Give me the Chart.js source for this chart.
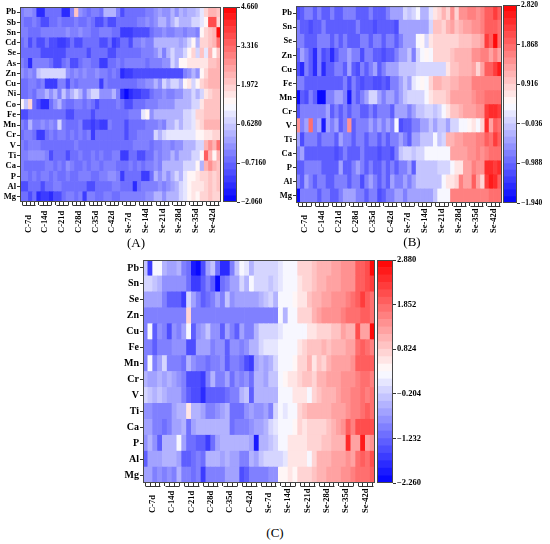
<!DOCTYPE html>
<html lang="en">
<head>
  <meta charset="UTF-8">
  <title>Element heatmaps (A)(B)(C)</title>
  <script src="https://cdn.jsdelivr.net/npm/chart.js"></script>
  <style>
    body { margin:0; background:#fff; width:550px; height:544px; position:relative; overflow:hidden; }
    canvas { position:absolute; }
    .tag { position:absolute; width:40px; margin-left:-20px; text-align:center;
           font-family:"Liberation Serif", serif; font-size:13px; line-height:16px; color:#000; }
  </style>
</head>
<body>
  <canvas id="heatA" width="222" height="240" style="left:0;top:0"></canvas>
  <canvas id="barA" width="50" height="214" style="left:223px;top:-4px"></canvas>
  <canvas id="heatB" width="227" height="240" style="left:276px;top:0"></canvas>
  <canvas id="barB" width="47" height="214" style="left:503px;top:-4px"></canvas>
  <canvas id="heatC" width="260" height="270" style="left:116px;top:250px"></canvas>
  <canvas id="barC" width="50" height="240" style="left:377px;top:250px"></canvas>
  <div class="tag" style="left:136px;top:235px">(A)</div>
  <div class="tag" style="left:412px;top:234px">(B)</div>
  <div class="tag" style="left:275px;top:525px">(C)</div>

  <script>
    // sample groups, 4 replicates each
    const groups = ['C-7d','C-14d','C-21d','C-28d','C-35d','C-42d',
                    'Se-7d','Se-14d','Se-21d','Se-28d','Se-35d','Se-42d'];

    // ---- panel A ----
    const rowsA = ['Pb','Sb','Sn','Cd','Se','As','Zn','Cu','Ni','Co','Fe','Mn','Cr','V','Ti','Ca','P','Al','Mg'];
    const rangeA = [-2.06, 4.66];
    const ticksA = [-2.06, -0.716, 0.628, 1.972, 3.316, 4.66];
    const tickLabelsA = ['\u22122.060','\u22120.7160','0.6280','1.972','3.316','4.660'];
    const valuesA = [
      [-0.4,-0.1,-0.1,-0.4, -1.6,-1.6,-0.7,-0.7, -0.7,-0.7,-1.6,-1.6, -0.4,2.0,-0.1,-0.4, -0.7,-0.4,-0.4,-0.7, 0.3,0.3,0.3,-0.4, -1.0,-0.7,-0.7,-0.7, -0.7,-0.7,-0.4,-0.4, -0.1,0.0,-0.1,-0.1, 0.3,-0.1,0.3,0.0, 0.3,0.3,0.6,1.0, 1.8,2.3,2.3,2.0],
      [-0.4,-0.7,-0.7,-0.4, -0.7,-1.0,-1.0,-0.7, -0.7,-0.4,-0.7,-0.7, -0.7,-0.4,-0.7,-0.7, -0.4,-0.7,-1.0,-1.0, -0.7,-1.0,-1.0,-0.7, -0.7,-0.7,-0.7,-0.7, -0.4,-0.4,-0.1,-0.4, -0.1,0.3,0.3,-0.1, 0.3,0.8,0.3,0.3, 0.3,0.8,0.8,1.0, 1.4,3.6,3.6,1.9],
      [-0.4,-0.4,-0.7,-0.7, -0.7,-0.4,-0.4,-0.4, -0.4,-0.4,-0.4,-0.1, -0.4,-0.4,-0.1,-0.4, -0.4,-0.7,-0.7,-0.4, -0.4,-0.4,-0.7,-0.7, -1.3,-1.3,-1.3,-1.0, -1.0,-1.0,-1.0,-0.7, -0.4,-0.4,-0.1,-0.4, -0.4,-0.1,-0.1,-0.4, -0.1,-0.1,-0.4,1.3, 1.8,2.0,2.3,4.6],
      [-0.7,-0.4,-1.0,-0.7, -1.0,-1.0,-0.7,-1.0, -1.0,-1.3,-1.3,-1.0, -0.7,-1.0,-1.0,-0.7, -0.7,-0.7,-0.7,-1.0, -1.0,-0.7,-1.3,-1.0, -0.7,-0.7,-1.0,-0.4, -0.4,-0.1,-0.4,-0.4, 0.3,0.3,0.3,0.3, 0.3,0.3,0.0,0.3, 0.8,1.3,0.3,1.8, 1.8,2.0,2.3,3.2],
      [-0.7,-0.7,-0.7,-0.7, -0.7,-1.0,-1.0,-1.0, -1.0,-1.0,-1.0,-0.7, -0.7,-0.7,-0.7,-0.7, -1.0,-0.7,-0.7,-0.7, -0.7,-1.0,-1.0,-0.7, -0.7,-0.7,-0.7,-0.7, -0.7,-0.4,-0.4,-0.4, -0.1,0.3,-0.4,0.3, 0.8,0.3,0.3,0.8, 1.3,1.8,0.8,2.0, 1.0,2.3,1.3,2.0],
      [-0.4,-0.7,-1.6,-0.4, -0.4,-0.4,-0.4,-0.7, -1.0,-1.0,-0.7,-0.4, -1.0,-1.0,-0.7,-0.4, -0.4,-0.7,-0.7,-1.3, -1.3,-0.7,-0.7,-0.4, -0.7,-0.4,-0.4,-0.4, -0.4,-0.4,-0.7,-0.4, -0.4,-0.4,-0.1,-0.1, 0.8,0.3,1.3,1.3, 1.6,1.6,1.6,1.6, 1.6,2.0,2.0,2.3],
      [-0.1,-0.4,-0.1,-0.4, 0.5,0.8,0.8,0.8, 0.8,0.8,0.8,-0.1, -0.4,-0.1,-0.4,-0.1, -0.4,-0.4,-0.1,-0.4, -0.4,-0.7,-0.4,-0.7, -1.6,-1.3,-1.3,-1.0, -1.0,-1.0,-1.0,-1.0, -1.0,-1.0,-1.0,-1.0, -1.0,-1.0,-1.0,-0.4, -0.1,0.3,-0.1,1.3, 1.8,2.3,2.3,2.3],
      [-0.7,-0.7,-0.4,-0.4, -0.7,-0.4,-1.3,-1.3, -1.3,-0.4,-0.4,-1.0, -0.4,-0.7,-0.4,-0.4, -0.4,-0.4,-0.4,-1.3, -0.4,-0.7,-0.7,-0.7, -0.7,-0.7,-0.7,-0.7, -0.4,-0.4,-0.1,-0.1, 0.3,-0.1,0.8,0.3, 0.8,0.8,0.3,1.3, 1.6,0.8,1.3,1.8, 2.0,2.3,2.3,2.3],
      [-0.7,-0.7,-0.4,-0.7, -0.1,-0.1,0.3,-0.1, 0.3,-0.4,0.5,-0.1, 0.3,0.8,0.3,-0.4, 0.3,0.8,0.8,-0.1, -0.1,-0.1,0.3,-0.4, -1.6,-2.0,-1.6,-1.3, -1.3,-1.0,-1.0,-0.7, -0.4,-0.4,-0.1,-0.4, -0.4,-0.1,-0.1,0.3, 0.3,0.8,0.3,0.8, 1.6,1.8,2.0,2.0],
      [1.3,0.5,1.8,-0.7, -1.0,-1.6,-1.6,-0.7, -0.1,0.3,-0.4,-0.7, -0.7,-0.4,-0.4,-0.7, -0.4,-0.7,-1.0,-0.7, -0.7,-0.7,-0.7,-0.4, -0.7,-1.0,-1.0,-0.7, -0.7,-0.7,-0.4,-0.4, -0.4,-0.1,-0.1,-0.1, -0.1,0.3,0.3,0.3, 0.3,0.8,0.8,1.6, 2.0,2.0,2.0,2.0],
      [-1.0,-1.0,-0.7,-0.7, -0.7,-0.7,-0.7,-0.7, -0.7,-0.7,-0.7,-1.0, -1.0,-0.7,-0.7,-0.7, -0.7,-1.0,-0.7,-0.7, -0.7,-0.7,-0.7,-0.7, -0.7,-0.7,-0.4,-0.4, -0.4,1.0,1.3,-0.1, 0.3,0.3,0.3,0.3, 0.3,0.3,0.3,0.8, 0.8,1.0,1.8,1.8, 2.0,2.0,2.0,2.0],
      [-0.4,-0.7,0.3,-0.4, -0.4,-0.1,-0.4,-0.1, -0.4,0.8,-0.4,-0.7, -0.7,-0.7,-0.4,-1.0, -1.0,-1.3,-1.0,-1.3, -1.3,-0.4,-0.7,-0.7, -0.7,-1.0,-0.7,-0.7, -0.7,-0.7,-0.4,-0.4, -0.4,-0.1,-0.4,0.3, 0.3,0.8,0.3,0.8, 0.8,1.0,1.6,1.8, 2.3,2.3,2.3,2.3],
      [-0.7,-0.4,-0.4,-0.7, -1.3,-1.3,-0.7,-0.4, -0.7,-0.4,-0.4,-0.7, -0.4,-0.7,-0.4,-0.7, -0.4,-1.3,-0.7,-0.7, -0.7,-0.7,-0.7,-0.7, -0.7,-1.0,-0.7,-0.7, -0.4,-0.4,-0.4,-0.4, 0.8,0.3,0.8,1.0, 1.0,1.0,1.0,1.0, 1.0,1.0,1.3,1.3, 1.6,1.6,1.8,1.8],
      [-0.4,-0.7,-0.4,-0.4, -0.4,-0.7,-0.7,-0.7, -0.7,-0.7,-0.7,-0.7, -0.7,-0.4,-0.7,-0.7, -0.7,-0.7,-0.7,-0.7, -0.7,-0.7,-0.7,-0.7, -0.7,-0.7,-0.7,-0.4, -0.4,-0.4,-0.4,-0.7, -0.4,-0.4,-0.1,-0.1, -0.4,-0.1,-0.1,0.3, 0.3,0.3,0.8,0.8, 2.3,2.8,2.3,3.2],
      [-0.4,-0.4,-0.1,-0.1, -0.1,-0.1,-0.4,-1.0, -0.7,-0.7,-0.7,-1.0, -0.7,-0.7,-0.4,-0.7, -0.7,-0.4,-0.7,-0.4, -0.7,-0.7,-0.4,-0.4, -1.3,-1.3,-0.7,-0.7, -1.0,-1.0,-0.7,-0.7, -0.1,-0.4,-0.1,-0.1, 0.3,-0.1,0.3,0.3, 0.3,0.8,0.8,1.3, 3.4,2.3,1.3,2.3],
      [-0.4,-0.7,-0.7,-0.7, -0.7,-0.7,-0.4,-0.4, -0.7,-0.4,-0.7,-0.1, -0.4,-0.7,-0.7,-0.4, -0.7,-0.4,-0.4,-0.7, -0.4,-0.4,-0.4,-0.7, -0.7,-0.7,-0.4,-0.7, -0.4,-0.7,-0.4,-0.4, -0.1,-0.4,0.3,0.3, 0.3,0.3,0.3,0.8, 0.8,0.8,1.3,0.3, 2.3,2.8,2.3,2.0],
      [-0.4,-0.4,-0.7,-0.4, -0.7,-0.4,-0.4,-0.7, -0.4,-0.7,-0.7,-0.4, -0.7,-0.7,-0.4,-0.4, -0.4,-0.7,-0.7,-0.4, -0.4,-0.1,-0.1,-0.4, -1.3,-0.7,-0.7,-0.7, -0.7,-1.3,-1.3,-0.7, 0.3,-0.1,0.3,-0.1, 0.3,0.8,0.3,1.0, 1.3,1.3,1.6,1.8, 1.8,2.0,1.8,2.0],
      [-1.0,-1.0,-0.7,-0.7, -0.7,-1.0,-0.7,-0.7, -0.4,-0.4,-0.7,-0.7, -0.7,-0.7,-0.7,-0.7, -1.0,-1.0,-0.7,-0.7, -0.7,-0.7,-0.4,-0.4, -0.7,-0.7,-0.7,-1.6, -0.7,-0.4,-0.4,-0.4, -0.4,-0.1,-0.4,-0.1, 0.0,0.3,0.8,1.0, 1.3,1.6,1.6,1.6, 1.8,2.0,1.8,2.0],
      [-0.7,-0.7,-1.0,-0.7, -1.6,-1.3,-1.3,-1.6, -1.0,-1.0,-0.7,-0.4, -0.4,-0.7,-0.4,-1.3, -0.4,-0.4,-0.7,-0.7, -0.4,-0.4,-0.7,-0.7, -0.4,-0.4,-0.4,-0.4, -0.4,-0.4,-0.1,-0.1, 0.3,0.3,-0.1,0.3, 0.3,0.3,0.8,1.0, 1.3,1.6,1.3,1.8, 1.8,2.0,1.8,1.8]
    ];

    // ---- panel B ----
    const rowsB = ['Pb','Sn','Se','Zn','Cu','Fe','Mn','Cr','V','Ti','Ca','P','Al','Mg'];
    const rangeB = [-1.94, 2.82];
    const ticksB = [-1.94, -0.988, -0.036, 0.916, 1.868, 2.82];
    const tickLabelsB = ['\u22121.940','\u22120.988','\u22120.036','0.916','1.868','2.820'];
    const valuesB = [
      [-1.3,-1.0,-0.7,-0.7, -1.0,-0.7,-1.0,-1.0, -0.7,-1.0,-1.0,-0.7, -0.7,-0.7,-1.0,-1.0, -1.0,-0.7,-1.0,-1.0, -1.0,-0.7,-0.4,-0.4, -0.4,0.0,-0.1,0.0, 0.4,-0.3,-0.3,0.2, 0.6,0.9,1.1,0.9, 1.5,0.9,1.5,1.5, 1.6,1.6,1.5,1.6, 2.0,2.0,2.2,2.0],
      [-0.7,-1.0,-1.0,-1.3, -1.0,-1.0,-0.7,-1.0, -1.0,-1.0,-1.0,-1.0, -1.0,-1.0,-0.7,-1.0, -1.0,-1.0,-1.3,-1.0, -1.0,-1.0,-1.0,-1.3, -0.4,-0.4,-0.4,-0.4, -0.4,-0.4,-0.4,0.1, 1.0,1.0,0.9,1.1, 1.3,1.0,1.1,1.3, 1.3,1.5,1.5,1.6, 1.9,1.9,1.9,1.8],
      [-0.7,-0.7,-1.0,-1.0, -1.0,-0.7,-0.7,-0.7, -1.0,-0.7,-1.0,-0.7, -1.0,-1.0,-1.0,-0.7, -0.7,-1.0,-0.7,-0.7, -1.0,-0.7,-0.7,-1.0, -0.7,-0.4,-0.4,-0.4, 0.4,0.5,0.1,0.6, 0.9,0.9,0.9,0.9, 0.9,0.9,1.0,1.0, 1.0,1.1,1.1,1.3, 2.3,2.0,2.8,1.8],
      [-1.0,-0.4,-0.7,-1.0, -1.6,-0.7,-1.3,-1.0, -1.6,-1.0,-0.7,-0.7, -0.4,-0.7,-0.7,-1.3, -0.7,-0.7,-1.0,-1.0, -1.3,-1.0,-1.0,-0.7, -0.4,-0.4,-0.1,-0.7, 0.1,0.4,0.5,0.3, 0.9,0.9,0.9,0.9, 1.0,1.1,1.1,1.1, 1.2,1.5,1.5,1.6, 1.6,1.3,1.6,1.3],
      [-1.3,-1.6,-0.7,-1.0, -1.6,-0.7,-1.6,-1.0, -1.0,-0.7,-0.7,-1.0, -0.4,-1.0,-1.3,-0.7, -1.0,-0.7,-0.4,-1.0, -0.7,-0.4,-0.4,-0.4, -0.1,-0.1,-0.1,-0.1, 0.0,0.0,0.0,0.1, 0.1,0.1,0.1,0.6, 1.0,1.0,1.1,1.1, 1.1,1.3,0.8,1.3, 2.0,2.0,2.2,2.6],
      [-0.7,-0.7,-1.0,-1.0, -1.0,-1.0,-1.0,-1.0, -1.0,-1.0,-1.0,-0.7, -1.3,-0.7,-1.0,-1.3, -1.0,-1.0,-1.3,-1.3, -1.0,-1.3,-0.7,-0.7, -0.4,-0.1,-0.4,0.2, 0.4,0.5,0.3,0.9, 1.1,1.1,1.0,1.0, 1.1,1.1,1.3,1.3, 1.3,1.6,1.6,1.6, 1.6,1.6,1.6,1.6],
      [-1.9,-1.0,-1.3,-0.7, -1.0,-1.9,-1.9,-0.7, -0.7,-0.4,-0.4,-0.7, -1.7,-0.7,-1.0,-0.7, -0.4,0.0,0.0,-0.4, -0.7,-0.4,-0.4,-0.7, -0.4,-0.1,0.0,0.0, 0.1,0.1,0.4,0.7, 0.9,0.9,0.9,1.0, 1.3,1.3,1.3,1.3, 1.3,1.5,1.6,1.6, 1.8,1.8,1.8,1.8],
      [-1.3,-0.7,-0.7,-0.7, -0.7,-0.7,-0.7,-0.4, -1.0,-0.7,-1.0,-0.7, -1.0,-0.7,-0.7,-1.0, -1.0,-0.7,-1.0,-0.7, -0.7,-0.7,-1.0,-0.4, -0.4,-0.4,-0.7,-0.4, -0.1,-0.1,0.0,0.0, -0.1,0.1,0.3,0.6, 1.0,1.0,1.1,1.3, 1.3,1.3,1.5,1.5, 2.2,2.5,2.5,2.2],
      [1.4,-0.7,-0.4,1.8, -0.7,-0.4,-1.7,-0.4, -0.7,-0.4,-1.0,-0.7, 1.5,-1.0,-0.7,-0.7, -0.7,-0.4,-0.7,-0.4, -0.7,-0.4,-0.7,0.4, -1.3,-1.0,-1.0,-0.7, -0.7,-0.4,-0.4,-0.1, -0.4,-0.1,-0.1,-0.4, 0.1,0.1,0.3,0.3, 0.5,0.6,0.3,0.9, 2.5,1.3,2.0,1.8],
      [-0.4,-1.3,-0.7,-0.7, -0.7,-1.0,-0.7,-0.7, -0.7,-1.0,-0.4,-0.7, -0.7,-1.0,-0.7,-0.7, -1.0,-0.7,-0.7,-1.0, -0.7,-1.0,-0.7,-0.7, -0.4,-0.7,-1.0,-0.4, -0.4,-0.1,-0.1,-0.1, 0.4,-0.1,0.1,1.1, 1.1,1.3,1.3,1.5, 1.5,1.5,1.6,1.6, 2.0,1.8,2.2,2.0],
      [-0.7,-0.4,-1.0,-1.0, -1.0,-1.0,-1.0,-1.0, -1.0,-1.3,-1.0,-0.7, -1.0,-1.0,-1.0,-0.7, -1.0,-1.0,-1.0,-1.3, -1.0,-1.0,-1.3,-0.7, -0.1,0.0,0.0,-0.1, 0.1,0.1,0.3,0.3, 0.3,0.3,0.3,0.3, 1.3,1.3,1.3,1.3, 1.5,1.5,1.6,1.5, 1.6,1.8,1.8,1.8],
      [-1.0,-1.0,-0.7,-0.7, -0.7,-0.7,-1.0,-1.0, -1.0,-1.0,-0.4,-1.0, -1.0,-0.7,-0.4,-0.7, -1.0,-0.7,-1.0,-1.0, -0.7,-1.0,-0.7,-1.0, -0.7,-0.7,-0.4,-1.0, -0.1,-0.1,-0.1,-0.1, -0.1,0.0,0.0,0.1, 0.4,0.6,0.7,1.3, 1.3,1.6,1.5,1.5, 2.4,2.4,2.2,2.4],
      [-0.7,-1.0,-0.4,-0.7, -1.0,-0.7,-0.7,-1.0, -1.0,-0.7,-0.7,-0.7, -1.0,-0.7,-0.7,-1.3, -0.7,-0.4,-0.7,-1.0, -0.7,-1.0,-0.4,-0.7, -0.7,-0.4,-0.7,-0.4, -0.1,-0.1,-0.1,-0.1, -0.1,-0.1,0.3,0.6, 0.6,0.8,1.6,1.3, 1.3,1.9,1.3,0.9, 2.2,2.6,2.4,2.0],
      [-1.9,-0.7,-0.7,-0.7, -0.7,-1.0,-0.7,-0.7, -1.0,-1.0,-0.7,-0.4, -0.4,-0.4,-0.7,-0.7, -1.0,-0.7,-0.7,-1.3, -1.0,-0.7,-0.7,-0.4, -0.4,-0.7,-0.4,-0.4, -0.4,-0.4,-0.4,-0.4, -0.1,0.3,0.4,0.4, 1.6,1.6,1.6,1.6, 1.6,1.6,1.6,1.6, 1.6,1.8,1.8,1.8]
    ];

    // ---- panel C ----
    const rowsC = ['Pb','Sn','Se','Zn','Cu','Fe','Mn','Cr','V','Ti','Ca','P','Al','Mg'];
    const rangeC = [-2.26, 2.88];
    const ticksC = [-2.26, -1.232, -0.204, 0.824, 1.852, 2.88];
    const tickLabelsC = ['\u22122.260','\u22121.232','\u22120.204','0.824','1.852','2.880'];
    const valuesC = [
      [-0.3,-1.6,0.2,0.2, -0.5,-0.7,-0.7,-0.5, -0.9,-1.2,-2.0,-2.2, -1.5,-0.7,-0.3,-1.2, -1.8,-1.8,-1.0,-0.3, 0.2,0.1,-0.5,-0.2, -0.2,-0.1,-0.1,-0.2, 0.1,0.2,0.2,0.3, 0.7,0.8,0.8,0.9, 1.0,1.0,1.1,1.2, 1.3,1.4,1.4,1.5, 1.9,2.0,2.1,2.8],
      [-0.2,-0.1,-0.3,-0.5, -0.8,-0.8,-0.8,-0.8, -0.8,-1.2,-1.6,-1.6, -1.3,-1.0,-1.4,-2.2, -1.2,-0.9,-0.7,-0.6, -0.2,-0.4,0.2,-0.1, -0.2,-0.2,-0.3,-0.1, 0.1,0.2,0.2,0.3, 0.6,0.7,0.8,0.9, 1.0,1.1,1.2,1.3, 1.3,1.4,1.5,1.5, 1.9,2.0,2.1,2.3],
      [-0.7,-0.7,-0.7,-0.7, -0.9,-1.3,-1.3,-1.3, -1.7,-0.1,-0.7,-1.0, -1.4,-1.1,-0.9,-0.7, -0.9,-0.3,-0.8,-0.7, -0.7,-0.7,-0.6,-0.6, -0.4,-0.3,-0.1,-0.4, 0.2,0.2,0.3,0.4, 0.5,0.6,0.9,1.0, 1.1,1.2,1.3,1.5, 1.4,1.5,1.6,1.8, 2.0,2.2,2.0,1.8],
      [-0.9,-0.9,-0.9,-0.9, -0.9,-0.9,-0.9,-0.9, -0.9,0.8,-0.9,-0.9, -0.9,-0.9,-0.9,-0.9, -0.9,-0.9,-0.9,-0.9, -0.9,-0.9,-0.9,-0.9, -0.9,-0.9,-0.9,-0.9, 0.3,-0.5,0.3,0.3, 0.7,0.8,0.8,1.1, 1.3,1.4,1.4,1.5, 1.4,1.6,1.7,1.7, 1.8,1.9,1.9,1.8],
      [-0.9,0.3,-1.3,-0.8, -1.0,-1.5,-0.8,-0.9, -0.6,0.2,-1.3,-0.8, -0.7,-0.3,-0.8,-0.8, -1.4,-0.7,-0.9,-1.4, -0.7,-0.9,-1.0,-0.4, -0.1,-0.1,-0.1,-0.1, 0.1,0.2,0.3,0.3, 0.3,0.3,0.5,0.6, 0.7,0.8,0.7,0.9, 0.9,1.3,1.0,1.1, 2.1,1.2,1.3,2.8],
      [-0.9,-0.9,-1.3,-0.9, -0.9,-0.9,-0.8,-0.8, -0.8,-1.5,-1.5,-0.6, -0.6,-0.6,-0.9,-0.8, -0.8,-1.4,-0.8,-0.8, -1.0,-0.8,-0.5,-0.4, -0.1,0.0,0.1,0.1, 0.3,0.3,0.3,0.3, 0.6,0.8,0.9,0.9, 0.9,1.0,0.9,1.0, 1.1,1.1,1.2,1.3, 1.8,2.0,1.7,1.6],
      [-0.9,0.2,-0.9,-0.7, -0.2,-0.9,-1.0,-0.9, -1.1,-0.5,-0.8,-0.9, -1.0,-1.2,-1.0,-0.9, -0.8,-1.3,-1.0,-1.0, -1.1,-1.5,-1.6,-0.6, -0.4,-0.6,-0.4,-0.2, 0.2,0.3,0.3,0.4, 0.7,0.8,1.1,0.6, 0.9,0.8,1.0,1.2, 1.2,1.3,1.3,1.4, 2.0,1.9,2.0,2.0],
      [-0.5,-0.6,-0.6,-0.5, -0.6,-0.5,-0.6,-0.8, -0.9,-1.5,-1.5,-1.5, -1.6,-1.0,-0.4,-0.9, -0.9,-0.7,-1.1,-0.8, -0.9,-0.8,-1.1,-0.5, -0.4,-0.6,-0.3,-0.3, 0.3,0.4,0.5,0.6, 0.8,0.9,0.9,0.8, 1.0,1.1,1.2,1.2, 1.3,1.4,1.5,1.5, 1.6,1.7,1.7,1.6],
      [-0.2,-0.3,-0.4,-0.3, -0.5,-0.6,-0.7,-0.6, -0.9,-1.4,-1.5,-1.5, -1.8,-1.3,-1.3,-1.4, -1.4,-1.2,-0.9,-0.9, -0.4,-0.3,-1.3,-0.5, -0.5,-0.5,-0.4,-0.4, 0.2,0.2,0.3,0.6, 0.5,0.6,0.3,0.8, 0.9,1.0,1.1,1.1, 1.3,1.4,1.5,1.6, 1.6,1.8,1.6,1.7],
      [-0.8,-0.8,-1.0,-1.0, -0.9,-0.9,-0.6,-0.5, -0.5,0.6,-0.5,-0.5, -0.6,-0.9,-1.0,-0.8, -0.7,-0.5,-1.2,-1.2, -1.2,-0.8,-0.6,-0.8, -0.8,-0.6,-0.9,-0.2, 0.2,0.1,0.2,0.3, 0.7,0.9,1.0,1.0, 1.1,1.1,1.1,1.2, 1.2,1.3,1.5,1.6, 1.6,1.8,1.9,1.8],
      [-0.6,-0.6,-0.9,-0.9, -1.2,-0.9,-0.6,-0.7, -0.5,-1.1,-0.7,-0.5, -0.5,-0.4,-0.5,-0.5, -0.4,-0.5,-1.1,-1.0, -0.9,-1.0,-0.8,-0.6, -0.7,-0.4,-0.2,0.1, 0.2,0.3,0.3,0.4, 0.7,0.6,0.7,0.7, 0.8,0.8,0.9,1.0, 1.3,1.4,2.0,1.6, 2.1,2.1,2.1,2.1],
      [-0.8,-0.4,-0.8,-1.3, -0.5,-0.5,-0.4,0.3, -0.6,-1.2,-1.2,-1.3, -1.4,-1.7,-1.2,-0.6, -0.4,-0.4,-0.5,-0.5, -0.5,-0.5,-0.7,-2.0, -0.4,-0.4,-0.3,-0.1, 0.2,0.3,0.5,0.6, 0.6,0.6,0.7,0.8, 0.8,0.9,0.9,1.0, 1.0,1.1,2.4,1.2, 1.2,2.7,1.3,1.5],
      [-1.4,-0.6,-0.7,-0.7, -0.5,-0.5,-0.5,-0.6, -1.3,-1.3,-1.1,-1.0, -1.1,-0.5,-0.4,-0.5, -0.6,-0.5,-0.6,-0.6, -1.0,-0.9,-0.5,-0.6, -0.3,-0.2,-0.2,-0.2, -0.1,0.0,0.5,0.6, 0.6,0.5,0.3,0.8, 1.1,1.0,1.1,1.3, 1.3,1.3,1.4,1.3, 1.8,2.0,1.8,2.1],
      [-0.6,-0.7,-0.9,-0.8, -0.9,-0.8,-0.9,-0.4, -1.0,-1.0,-1.1,-1.0, -1.7,-0.9,-0.9,-1.0, -0.9,-0.7,-0.7,-0.6, -1.5,-1.3,-1.0,-1.0, -0.9,-0.9,-0.8,-0.8, 0.4,0.4,0.6,0.4, 0.7,0.8,0.8,0.9, 1.0,1.1,1.3,1.3, 1.3,1.4,1.5,1.6, 1.7,1.8,1.8,1.9]
    ];

    const N_LEVELS = 30;
    const SERIF = '"Liberation Serif", "Times New Roman", serif';

    // blue -> white -> red
    function levelColor(t) {
      let r, g, b;
      if (t < 0.5) { const s = t / 0.5; r = 255 * s; g = 255 * s; b = 255; }
      else { const s = (t - 0.5) / 0.5; r = 255; g = 255 * (1 - s); b = 255 * (1 - s); }
      return `rgb(${Math.round(r)},${Math.round(g)},${Math.round(b)})`;
    }
    function colorFor(v, range) {
      let k = Math.floor((v - range[0]) / (range[1] - range[0]) * N_LEVELS);
      k = Math.max(0, Math.min(N_LEVELS - 1, k));
      return levelColor((k + 0.5) / N_LEVELS);
    }

    const framePlugin = {
      id: 'frame',
      afterDraw(chart) {
        const {ctx, chartArea: a} = chart;
        ctx.save();
        ctx.strokeStyle = '#4a4a4a';
        ctx.lineWidth = 1;
        ctx.strokeRect(a.left + 0.5, a.top + 0.5, a.right - a.left - 1, a.bottom - a.top - 1);
        ctx.restore();
      }
    };

    // group brackets + rotated group names under the x axis
    const groupPlugin = {
      id: 'groupLabels',
      afterDraw(chart, args, opts) {
        const {ctx, chartArea: a} = chart;
        const x = chart.scales.x;
        const yb = a.bottom + opts.tick;
        ctx.save();
        ctx.strokeStyle = '#333';
        ctx.lineWidth = 1;
        ctx.fillStyle = '#000';
        ctx.font = `bold ${opts.size}px ${SERIF}`;
        groups.forEach((g, i) => {
          const x1 = x.getPixelForValue(i * 4), x2 = x.getPixelForValue(i * 4 + 3);
          ctx.beginPath();
          ctx.moveTo(Math.round(x1) + 0.5, yb + 0.5);
          ctx.lineTo(Math.round(x2) + 0.5, yb + 0.5);
          ctx.stroke();
          const xc = x.getPixelForValue(i * 4 + 1.5);
          ctx.save();
          ctx.translate(xc, opts.baseY);
          ctx.rotate(-Math.PI / 2);
          ctx.textAlign = 'left';
          ctx.textBaseline = 'middle';
          ctx.fillText(g, 0, 0);
          ctx.restore();
        });
        ctx.restore();
      }
    };

    function drawHeatmap(id, rows, values, range, cfg) {
      const bottomUp = rows.slice().reverse();
      const datasets = rows.map((name, r) => ({
        label: name,
        data: values[r].map(() => 1),
        backgroundColor: values[r].map(v => colorFor(v, range)),
        borderWidth: 0,
        barPercentage: 1,
        categoryPercentage: 1
      })).reverse();
      new Chart(document.getElementById(id), {
        type: 'bar',
        data: { labels: values[0].map((_, i) => 'c' + i), datasets },
        options: {
          responsive: false,
          animation: false,
          events: [],
          layout: { padding: { top: cfg.top, right: 1, left: 0, bottom: 0 } },
          plugins: {
            legend: { display: false },
            tooltip: { enabled: false },
            groupLabels: { tick: 3, size: cfg.xFont, baseY: cfg.baseY }
          },
          scales: {
            x: {
              stacked: true,
              grid: { offset: false, drawOnChartArea: false, drawTicks: true, tickLength: 3, color: '#333' },
              border: { display: false },
              ticks: { display: false },
              afterFit: s => { s.height = cfg.xAxisH; }
            },
            y: {
              stacked: true,
              min: 0,
              max: rows.length,
              grid: { drawOnChartArea: false, drawTicks: true, tickLength: 3, color: '#333' },
              border: { display: false },
              afterBuildTicks: s => { s.ticks = bottomUp.map((_, i) => ({ value: i + 0.5 })); },
              ticks: {
                autoSkip: false,
                padding: 1,
                color: '#000',
                font: { family: SERIF, size: cfg.yFont, weight: 'bold' },
                callback: v => bottomUp[Math.floor(v)]
              },
              afterFit: s => { s.width = cfg.yAxisW; }
            }
          }
        },
        plugins: [framePlugin, groupPlugin]
      });
    }

    function drawColorbar(id, range, tickVals, tickLabels, cfg) {
      const step = (range[1] - range[0]) / N_LEVELS;
      const datasets = [];
      for (let k = 0; k < N_LEVELS; k++) {
        datasets.push({
          data: [[range[0] + k * step, range[0] + (k + 1) * step]],
          backgroundColor: levelColor((k + 0.5) / N_LEVELS),
          borderWidth: 0,
          grouped: false,
          barPercentage: 1,
          categoryPercentage: 1
        });
      }
      new Chart(document.getElementById(id), {
        type: 'bar',
        data: { labels: ['scale'], datasets },
        options: {
          responsive: false,
          animation: false,
          events: [],
          layout: { padding: { top: cfg.top, bottom: cfg.bottom, left: 0, right: 0 } },
          plugins: { legend: { display: false }, tooltip: { enabled: false } },
          scales: {
            x: { display: false },
            y: {
              position: 'right',
              min: range[0],
              max: range[1],
              grid: { drawOnChartArea: false, drawTicks: true, tickLength: 3, color: '#333' },
              border: { display: false },
              afterBuildTicks: s => { s.ticks = tickVals.map(v => ({ value: v })); },
              ticks: {
                autoSkip: false,
                padding: 1,
                color: '#000',
                font: { family: SERIF, size: cfg.font, weight: 'bold' },
                callback: (v, i) => tickLabels[i]
              },
              afterFit: s => { s.width = cfg.axisW; }
            }
          }
        },
        plugins: [framePlugin]
      });
    }

    drawHeatmap('heatA', rowsA, valuesA, rangeA, { top: 7, yAxisW: 20, xAxisH: 38, yFont: 8.5, xFont: 8.5, baseY: 233 });
    drawColorbar('barA', rangeA, ticksA, tickLabelsA, { top: 11, bottom: 8, axisW: 36, font: 7.5 });

    drawHeatmap('heatB', rowsB, valuesB, rangeB, { top: 5, yAxisW: 20, xAxisH: 37, yFont: 8.5, xFont: 8.5, baseY: 233 });
    drawColorbar('barB', rangeB, ticksB, tickLabelsB, { top: 9, bottom: 7, axisW: 33, font: 7.5 });

    drawHeatmap('heatC', rowsC, valuesC, rangeC, { top: 10, yAxisW: 27, xAxisH: 37, yFont: 10, xFont: 8.5, baseY: 263 });
    drawColorbar('barC', rangeC, ticksC, tickLabelsC, { top: 10, bottom: 7, axisW: 34, font: 8.5 });
  </script>
</body>
</html>
